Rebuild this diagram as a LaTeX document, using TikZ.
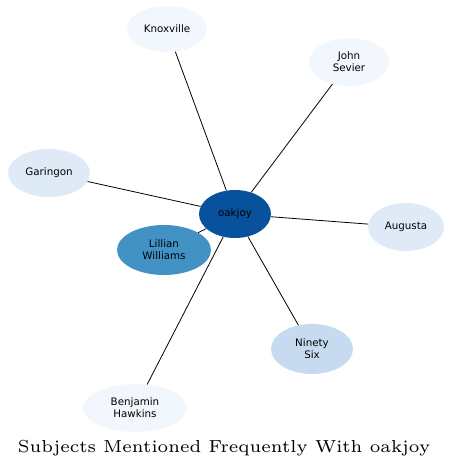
\documentclass[tikz,border=0pt]{standalone}
\usepackage{fontspec}
\newfontfamily\nodefont{DejaVu Sans}
\newfontfamily\titlefont{lmroman6-regular.otf}
\usetikzlibrary{shapes.geometric}
\definecolor{cdark}{HTML}{08519C}
\definecolor{cmid}{HTML}{4292C6}
\definecolor{clight}{HTML}{C6DBEF}
\definecolor{cpale}{HTML}{DEEBF7}
\definecolor{cwhite}{HTML}{F2F7FD}
\begin{document}
\begin{tikzpicture}[x=1pt,y=1pt,
  ent/.style={ellipse,draw=none,inner sep=0pt,font=\nodefont\fontsize{10.3}{12}\selectfont,align=center,minimum height=48pt},
  link/.style={draw=black,line width=0.8pt}]
\useasboundingbox (0,0) rectangle (452,469);
\node[ent,fill=cdark,minimum width=72pt] (oak) at (235,255) {oakjoy};
\node[ent,fill=cwhite,minimum width=80pt,minimum height=46pt] (knox) at (167,440) {Knoxville};
\node[ent,fill=cwhite,minimum width=80pt] (john) at (349,407) {John\\Sevier};
\node[ent,fill=cpale,minimum width=82pt] (gar) at (49,296) {Garingon};
\node[ent,fill=cpale,minimum width=76pt] (aug) at (406,242) {Augusta};
\node[ent,fill=cmid,minimum width=94pt,minimum height=50pt] (lil) at (164,219) {Lillian\\Williams};
\node[ent,fill=clight,minimum width=82pt,minimum height=50pt] (ninety) at (312,120) {Ninety\\Six};
\node[ent,fill=cwhite,minimum width=104pt] (ben) at (135,61) {Benjamin\\Hawkins};
\foreach \t in {knox,john,gar,aug,lil,ninety,ben}
  \draw[link] (oak) -- (\t);
\node[font=\titlefont\fontsize{17.4}{20}\selectfont] (title) at (224,21) {Subjects Mentioned Frequently With oakjoy};
\end{tikzpicture}
\end{document}
